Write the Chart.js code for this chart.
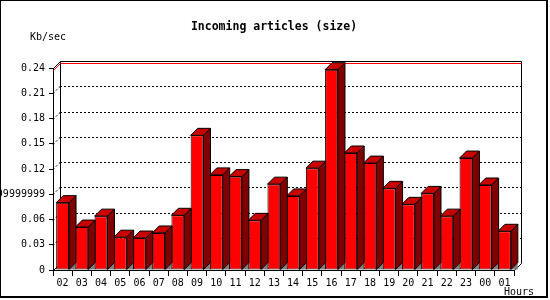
<!DOCTYPE html>
<html>
<head>
<meta charset="utf-8">
<script src="https://cdn.jsdelivr.net/npm/chart.js@4"></script>
<style>
  body { margin: 0; background: #fff; }
  canvas { display: block; }
</style>
</head>
<body>
<canvas id="chart" width="550" height="300"></canvas>
<script>
var hours = ["02","03","04","05","06","07","08","09","10","11","12","13","14","15","16","17","18","19","20","21","22","23","00","01"];
var kbPerSec = [0.080,0.051,0.064,0.039,0.038,0.044,0.065,0.160,0.113,0.111,0.059,0.102,0.088,0.121,0.238,0.139,0.127,0.097,0.078,0.091,0.064,0.133,0.101,0.046];
var yTickLabels = ["0","0.03","0.06","0.09999999","0.12","0.15","0.18","0.21","0.24"];

var depth = 7;
var smallFont = '10px "DejaVu Sans Mono"';

function line(ctx, x1, y1, x2, y2) {
  ctx.beginPath();
  ctx.moveTo(x1, y1);
  ctx.lineTo(x2, y2);
  ctx.stroke();
}

function poly(ctx, pts, fill, stroke) {
  ctx.beginPath();
  ctx.moveTo(pts[0][0], pts[0][1]);
  for (var i = 1; i < pts.length; i++) ctx.lineTo(pts[i][0], pts[i][1]);
  ctx.closePath();
  if (fill) { ctx.fillStyle = fill; ctx.fill(); }
  if (stroke) { ctx.strokeStyle = stroke; ctx.stroke(); }
}

// back wall, dotted grid, max line and the little floor shadows
var bar3d = {
  id: 'bar3d',
  beforeDatasetsDraw: function(chart) {
    var ctx = chart.ctx, a = chart.chartArea, y = chart.scales.y;
    var d = depth;
    ctx.save();
    ctx.lineWidth = 1;
    ctx.strokeStyle = '#000';

    ctx.setLineDash([2, 2]);
    y.ticks.forEach(function(t) {
      if (t.value <= 0 || t.value >= y.max - 1e-9) return;
      var py = Math.round(y.getPixelForValue(t.value)) + 0.5;
      line(ctx, a.left + d, py - d, a.right + d, py - d);
      line(ctx, a.left, py, a.left + d, py - d);
    });
    ctx.setLineDash([]);

    var top = Math.round(a.top) + 0.5, bot = Math.round(a.bottom) + 0.5;
    var l = Math.round(a.left) + 0.5, r = Math.round(a.right) + 0.5;
    line(ctx, l + d, top - d, l + d, bot - d);
    line(ctx, l + d, top - d, r + d, top - d);
    line(ctx, r + d, top - d, r + d, bot - d);
    line(ctx, l, top, l + d, top - d);
    line(ctx, r, bot, r + d, bot - d);
    line(ctx, l, bot, l + d, bot - d);

    // maximum line
    var maxVal = Math.max.apply(null, kbPerSec);
    var my = Math.round(y.getPixelForValue(maxVal)) + 0.5;
    ctx.strokeStyle = '#ff0000';
    line(ctx, l + d, my - d, r + d, my - d);
    line(ctx, l, my, l + d, my - d);

    var meta = chart.getDatasetMeta(0);
    meta.data.forEach(function(bar) {
      var xr = bar.x + bar.width / 2, b = bar.base;
      poly(ctx, [[xr, b], [xr + d, b - d], [xr + d, b]], '#808080', null);
    });
    ctx.restore();
  },
  afterDatasetsDraw: function(chart) {
    var ctx = chart.ctx, d = depth;
    var meta = chart.getDatasetMeta(0);
    ctx.save();
    ctx.lineWidth = 1;
    meta.data.forEach(function(bar) {
      var xl = bar.x - bar.width / 2, xr = bar.x + bar.width / 2;
      var t = bar.y, b = bar.base;
      poly(ctx, [[xr, t], [xr + d, t - d], [xr + d, b - d], [xr, b]], '#800000', '#000');
      poly(ctx, [[xl, t], [xl + d, t - d], [xr + d, t - d], [xr, t]], '#c80000', '#000');
    });
    ctx.restore();
  },
  afterDraw: function(chart) {
    var ctx = chart.ctx;
    ctx.save();
    ctx.fillStyle = '#000';
    ctx.textBaseline = 'middle';
    ctx.textAlign = 'center';
    ctx.font = 'bold 11.5px "DejaVu Sans Mono"';
    ctx.fillText('Incoming articles (size)', 274, 27);
    ctx.font = smallFont;
    ctx.textAlign = 'left';
    ctx.fillText('Kb/sec', 30, 37);
    ctx.fillText('Hours', 504, 292);

    ctx.strokeStyle = '#000';
    ctx.lineWidth = 1;
    line(ctx, 0.5, 0, 0.5, 298);
    line(ctx, 0, 0.5, 548, 0.5);
    ctx.lineWidth = 2;
    line(ctx, 547, 0, 547, 298);
    line(ctx, 0, 297, 548, 297);
    ctx.restore();
  }
};

var canvas = document.getElementById('chart');
var ctx = canvas.getContext('2d');

var chart = new Chart(ctx, {
  type: 'bar',
  data: {
    labels: hours,
    datasets: [
      {
        data: kbPerSec,
        backgroundColor: '#ff0000',
        borderColor: '#000000',
        borderWidth: 1,
        borderSkipped: false,
        barPercentage: 0.67,
        categoryPercentage: 1
      }
    ]
  },
  options: {
    responsive: false,
    animation: false,
    devicePixelRatio: 1,
    layout: { padding: { left: 0, right: 36, top: 68, bottom: 0 } },
    plugins: {
      legend: { display: false },
      title: { display: false },
      tooltip: { enabled: false }
    },
    scales: {
      x: {
        grid: { offset: true, drawOnChartArea: false, drawTicks: true, tickLength: 6, color: '#000' },
        border: { color: '#000' },
        ticks: { font: { family: 'DejaVu Sans Mono', size: 10 }, color: '#000', padding: 1, maxRotation: 0, autoSkip: false },
        afterFit: function(s) { s.height = 30; }
      },
      y: {
        min: 0,
        max: 0.24,
        ticks: {
          stepSize: 0.03,
          font: { family: 'DejaVu Sans Mono', size: 10 },
          color: '#000',
          padding: 4,
          callback: function(v, i) { return yTickLabels[i]; }
        },
        grid: { drawOnChartArea: false, tickLength: 4, color: '#000' },
        border: { color: '#000' },
        afterFit: function(s) { s.width = 53; }
      }
    }
  },
  plugins: [bar3d]
});
</script>
</body>
</html>
